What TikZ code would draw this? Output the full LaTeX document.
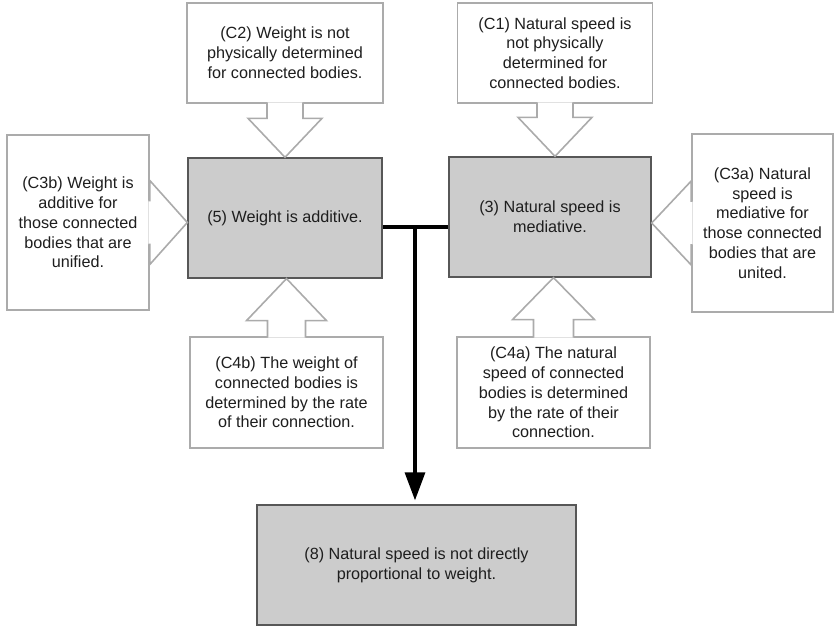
\documentclass[tikz,border=0pt]{standalone}
\usepackage{fontspec}
\setmainfont{Liberation Sans}
\usetikzlibrary{arrows.meta,calc}

\definecolor{premisefill}{HTML}{CCCCCC}
\definecolor{premiseline}{HTML}{575757}
\definecolor{claimline}{HTML}{ABABAB}
\definecolor{txt}{HTML}{1E1E1E}

\tikzset{
  premise/.style={draw=premiseline, fill=premisefill, line width=1.3pt, align=center,
    inner sep=0pt, text=txt, font=\fontsize{16.2}{19.8}\selectfont},
  claim/.style={draw=claimline, fill=white, line width=1.6pt, align=center,
    inner sep=0pt, text=txt, font=\fontsize{16.2}{19.8}\selectfont},
  callarrow/.style={draw=claimline, fill=white, line width=1.6pt, line join=miter},
  mainline/.style={line width=3.2pt, black}
}

\begin{document}
\begin{tikzpicture}[x=1pt,y=1pt]
\useasboundingbox (0,0) rectangle (835,628);

% premises
\node[premise, minimum width=194pt, minimum height=120pt] (b5) at (285,410) {(5) Weight is additive.};
\node[premise, minimum width=202pt, minimum height=120pt] (b3) at (550,411) {(3) Natural speed is\\mediative.};
\node[premise, minimum width=319pt, minimum height=120pt] (b8) at (416.5,63) {(8) Natural speed is not directly\\proportional to weight.};

% claims round them
\node[claim, minimum width=196pt, minimum height=100pt] (c2) at (285,575) {(C2) Weight is not\\physically determined\\for connected bodies.};
\node[claim, minimum width=195pt, minimum height=100pt] (c1) at (555,575) {(C1) Natural speed is\\not physically\\determined for\\connected bodies.};
\node[claim, minimum width=142pt, minimum height=175pt] (c3b) at (78,405.5) {(C3b) Weight is\\additive for\\those connected\\bodies that are\\unified.};
\node[claim, minimum width=141pt, minimum height=178pt] (c3a) at (762.5,405) {(C3a) Natural\\speed is\\mediative for\\those connected\\bodies that are\\united.};
\node[claim, minimum width=193pt, minimum height=111pt] (c4b) at (286.5,235.5) {(C4b) The weight of\\connected bodies is\\determined by the rate\\of their connection.};
\node[claim, minimum width=193pt, minimum height=111pt] (c4a) at (553.5,235.5) {(C4a) The natural\\speed of connected\\bodies is determined\\by the rate of their\\connection.};

% callout arrows
\draw[callarrow] ($(c2.south)+(-18,1.5)$) -- ($(c2.south |- b5.north)+(-18,39)$) -- ++(-19,0)
  -- (c2.south |- b5.north) -- ++(37,39) -- ++(-19,0) -- ($(c2.south)+(18,1.5)$);
\draw[callarrow] ($(c1.south)+(-18,1.5)$) -- ($(c1.south |- b3.north)+(-18,39)$) -- ++(-19,0)
  -- (c1.south |- b3.north) -- ++(37,39) -- ++(-19,0) -- ($(c1.south)+(18,1.5)$);
\draw[callarrow] ($(c4b.north)+(-19,-1.5)$) -- ($(c4b.north |- b5.south)+(-19,-42)$) -- ++(-21,0)
  -- (c4b.north |- b5.south) -- ++(40,-42) -- ++(-21,0) -- ($(c4b.north)+(19,-1.5)$);
\draw[callarrow] ($(c4a.north)+(-20,-1.5)$) -- ($(c4a.north |- b3.south)+(-20,-42)$) -- ++(-21,0)
  -- (c4a.north |- b3.south) -- ++(41,-42) -- ++(-21,0) -- ($(c4a.north)+(20,-1.5)$);
\draw[callarrow] ($(c3b.east)+(-1.5,22)$) -- ++(1.5,0) -- ++(0,20) -- (b5.west |- c3b.east)
  -- ($(c3b.east)+(0,-42)$) -- ++(0,20) -- ++(-1.5,0);
\draw[callarrow] ($(c3a.west)+(1.5,22)$) -- ++(-1.5,0) -- ++(0,20) -- (b3.east |- c3a.west)
  -- ($(c3a.west)+(0,-42)$) -- ++(0,20) -- ++(1.5,0);

% joint inference
\coordinate (j) at (415,401);
\draw[mainline] (j -| b5.east) -- (j -| b3.west);
\draw[mainline, -{Triangle[width=20pt,length=28pt]}, shorten >=4pt] (j) -- (j |- b8.north);
\end{tikzpicture}
\end{document}
